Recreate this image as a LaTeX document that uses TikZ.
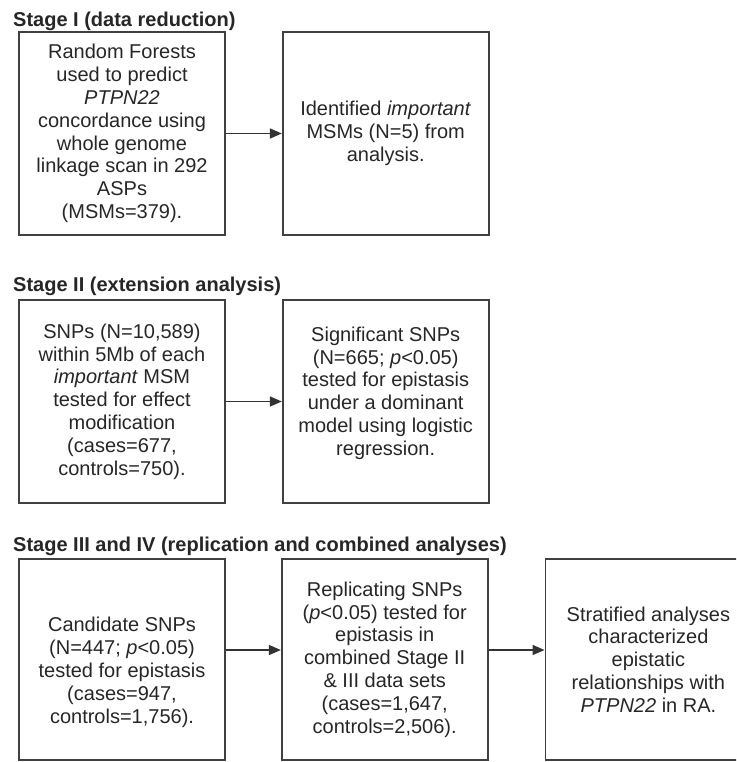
\documentclass[tikz,border=0pt]{standalone}
\usepackage{fontspec}
\setmainfont{Liberation Sans}
\usetikzlibrary{positioning,arrows.meta}

\tikzstyle{stage} = [anchor=base west, inner sep=0pt, text=black!85, font=\fontsize{20}{22.8}\selectfont\bfseries]
\tikzstyle{box} = [draw=black!75, line width=1.7pt, rectangle, align=center, inner sep=0pt, minimum width=206pt, minimum height=203pt, text=black!85, font=\fontsize{20}{22.8}\selectfont]
\tikzstyle{sbox} = [box, minimum height=201pt]
\tikzstyle{line} = [draw=black!80, line width=1.6pt, ->]

\begin{document}
\begin{tikzpicture}[x=1pt,y=-1pt,node distance=56pt,>={Triangle[length=12pt,width=10pt]}]
  \def\up{9.5pt}
  \path [use as bounding box, clip] (0,0) rectangle (736,762);

  % Stage I
  \node [stage] (st1) at (13,27) {Stage I (data reduction)};
  \node [box] (rf) at (122,133.5) {Random Forests\\used to predict\\\textit{PTPN22}\\concordance using\\whole genome\\linkage scan in 292\\ASPs\\(MSMs=379).};
  \node [box, right=of rf] (msm) {Identified \textit{important}\\MSMs (N=5) from\\analysis.};

  % Stage II
  \node [stage] (st2) at (13,291) {Stage II (extension analysis)};
  \node [box] (snp) at (122,401.5) {SNPs (N=10,589)\\within 5Mb of each\\\textit{important} MSM\\tested for effect\\modification\\(cases=677,\\controls=750).};
  \node [box, right=of snp] (sig) {Significant SNPs\\(N=665; \textit{p}<0.05)\\tested for epistasis\\under a dominant\\model using logistic\\regression.\rule[-21pt]{0pt}{0pt}};

  % Stage III and IV
  \node [stage] (st3) at (13,551) {Stage III and IV (replication and combined analyses)};
  \node [sbox] (cand) at (122,659.5) {\rule{0pt}{40pt}Candidate SNPs\\(N=447; \textit{p}<0.05)\\tested for epistasis\\(cases=947,\\controls=1,756).};
  \node [sbox, right=55pt of cand] (repl) {Replicating SNPs\\(\textit{p}<0.05) tested for\\epistasis in\\combined Stage II\\\& III data sets\\(cases=1,647,\\controls=2,506).};
  \node [sbox, right=of repl] (strat) {Stratified analyses\\characterized\\epistatic\\relationships with\\\textit{PTPN22} in RA.};

  \draw [line] (rf) -- (msm);
  \draw [line] (snp) -- (sig);
  \draw [line] ([yshift=\up]cand.east) -- ([yshift=\up]cand.east -| repl.west);
  \draw [line] ([yshift=\up]repl.east) -- ([yshift=\up]repl.east -| strat.west);
\end{tikzpicture}
\end{document}
